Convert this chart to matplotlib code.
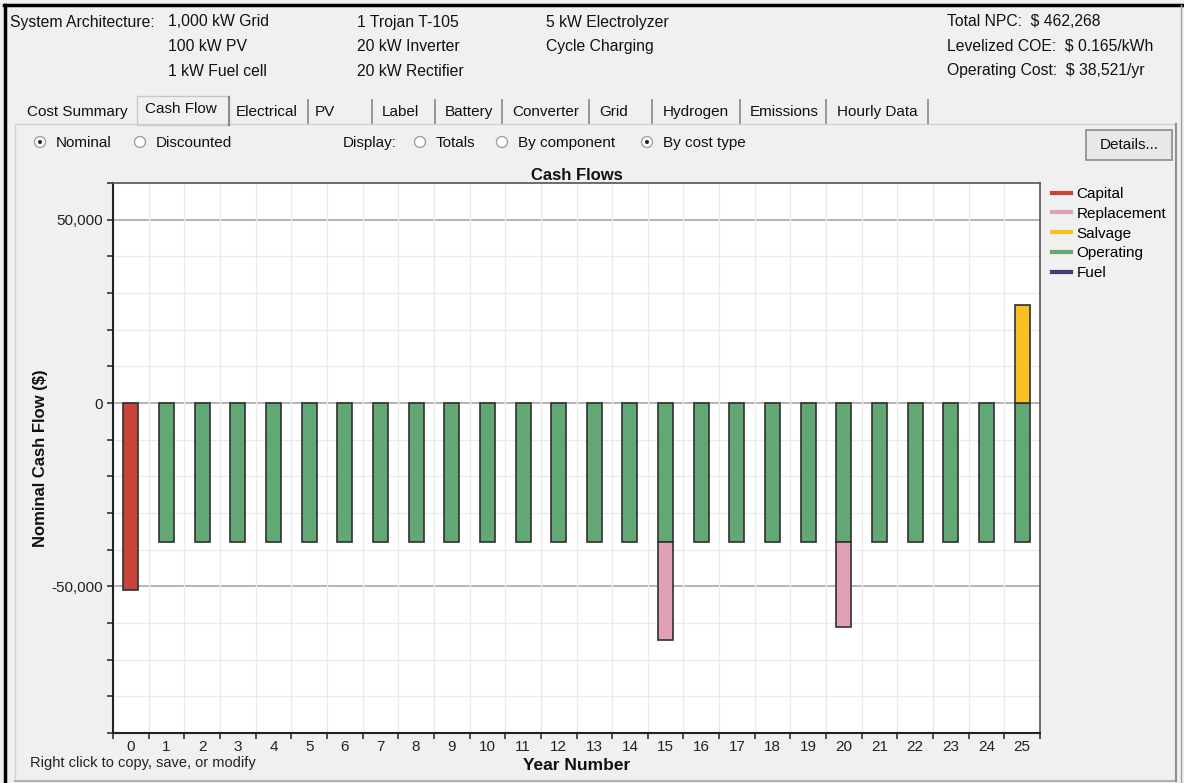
import matplotlib
matplotlib.use('Agg')
import matplotlib.pyplot as plt
from matplotlib.patches import Rectangle, Circle
from matplotlib.lines import Line2D

plt.rcParams['font.family'] = ['Liberation Sans', 'DejaVu Sans']

# dados (US$ nominal por ano)
anos = [0, 1, 2, 3, 4, 5, 6, 7, 8, 9, 10, 11, 12, 13, 14, 15, 16, 17, 18, 19, 20, 21, 22, 23, 24, 25]
capital = [-51100, 0, 0, 0, 0, 0, 0, 0, 0, 0, 0, 0, 0, 0, 0, 0, 0, 0, 0, 0, 0, 0, 0, 0, 0, 0]
operacao = [0, -37900, -37900, -37900, -37900, -37900, -37900, -37900, -37900, -37900, -37900,
            -37900, -37900, -37900, -37900, -37900, -37900, -37900, -37900, -37900, -37900,
            -37900, -37900, -37900, -37900, -37900]
reposicao = [0, 0, 0, 0, 0, 0, 0, 0, 0, 0, 0, 0, 0, 0, 0, -26700, 0, 0, 0, 0, -23300, 0, 0, 0, 0, 0]
salvamento = [0, 0, 0, 0, 0, 0, 0, 0, 0, 0, 0, 0, 0, 0, 0, 0, 0, 0, 0, 0, 0, 0, 0, 0, 0, 26700]
combustivel = [0] * 26

legenda = ['Capital', 'Replacement', 'Salvage', 'Operating', 'Fuel']
cores = {'Capital': '#c8443a', 'Replacement': '#e0a0b8', 'Salvage': '#f8c020',
         'Operating': '#62a874', 'Fuel': '#3c3f6e'}
anos_ticks = [str(a) for a in anos]

arquitetura = [['1,000 kW Grid', '100 kW PV', '1 kW Fuel cell'],
               ['1 Trojan T-105', '20 kW Inverter', '20 kW Rectifier'],
               ['5 kW Electrolyzer', 'Cycle Charging']]
resumo = ['Total NPC:  $ 462,268', 'Levelized COE:  $ 0.165/kWh', 'Operating Cost:  $ 38,521/yr']
abas = [('Cost Summary', 27), ('Electrical', 236), ('PV', 315), ('Label', 382), ('Battery', 445),
        ('Converter', 512), ('Grid', 599), ('Hydrogen', 663), ('Emissions', 750), ('Hourly Data', 837)]
separadores = [229, 308, 372, 435, 502, 589, 652, 740, 826, 928]

fundo = '#f0f0f0'
fig = plt.figure(figsize=(11.84, 7.83), dpi=100, facecolor=fundo)

# camada da janela (coordenadas em pixels)
ui = fig.add_axes([0, 0, 1, 1])
ui.set_xlim(0, 1184)
ui.set_ylim(783, 0)
ui.axis('off')

ui.plot([4, 1184], [5, 5], color='black', lw=2.5)
ui.plot([5, 5], [5, 783], color='black', lw=2.5)
ui.plot([1181, 1181], [5, 783], color='#a0a0a0', lw=1)

fs_ui = 11.3
ui.text(10, 22, 'System Architecture:', fontsize=fs_ui, va='center', color='#111')
col_x = [168, 357, 546]
for cx, linhas in zip(col_x, arquitetura):
    for i, t in enumerate(linhas):
        ui.text(cx, 22 + i * 24.5, t, fontsize=fs_ui, va='center', color='#111')
for i, t in enumerate(resumo):
    ui.text(947, 22 + i * 24.5, t, fontsize=fs_ui, va='center', color='#111')

# abas
ui.plot([15, 1176], [124, 124], color='#d0d0d0', lw=1)
ui.plot([15, 15], [124, 781], color='#d0d0d0', lw=1)
ui.plot([15, 1176], [781, 781], color='#b0b0b0', lw=1.5)
ui.plot([1176, 1176], [124, 781], color='#909090', lw=1.5)
ui.add_patch(Rectangle((137, 96), 92, 29, facecolor=fundo, edgecolor='#c8c8c8', lw=1))
ui.plot([229, 229], [97, 125], color='#808080', lw=1.5)
ui.text(145, 109, 'Cash Flow', fontsize=11, va='center', color='#111')
for nome, x in abas:
    ui.text(x, 112, nome, fontsize=11, va='center', color='#111')
for x in separadores:
    ui.plot([x, x], [100, 123], color='#909090', lw=1.3)

# botoes de radio
radios = [(40, 'Nominal', True), (140, 'Discounted', False), (420, 'Totals', False),
          (502, 'By component', False), (647, 'By cost type', True)]
for x, nome, marcado in radios:
    ui.add_patch(Circle((x, 142), 5.5, facecolor='white', edgecolor='#a0a0a0', lw=1))
    if marcado:
        ui.add_patch(Circle((x, 142), 2, facecolor='#222', edgecolor='none'))
    ui.text(x + 16, 143, nome, fontsize=11, va='center', color='#111')
ui.text(343, 143, 'Display:', fontsize=11, va='center', color='#111')

ui.add_patch(Rectangle((1086, 130), 86, 30, facecolor='#e8e8e8', edgecolor='#8a8a8a', lw=1.2))
ui.text(1129, 145, 'Details...', fontsize=11, va='center', ha='center', color='#111')

ui.text(30, 763, 'Right click to copy, save, or modify', fontsize=10.5, va='center', color='#222')

# grafico
ax = fig.add_axes([113 / 1184, 1 - 733 / 783, 927 / 1184, 550 / 783])
ax.set_facecolor('white')
largura = 0.42
borda = '#303030'

def barras(valores, cor, base=None):
    xs, hs, bs = [], [], []
    for i, v in enumerate(valores):
        if v != 0:
            xs.append(anos[i])
            hs.append(v)
            bs.append(base[i] if base else 0)
    ax.bar(xs, hs, largura, bottom=bs, color=cor, edgecolor=borda, lw=1.2, zorder=3)

barras(capital, cores['Capital'])
barras(operacao, cores['Operating'])
barras(reposicao, cores['Replacement'], operacao)
barras(salvamento, cores['Salvage'])
barras(combustivel, cores['Fuel'])

ax.set_xlim(-0.5, 25.5)
ax.set_ylim(-90000, 60000)
ax.set_xticks(anos)
ax.set_xticklabels(anos_ticks)
ax.set_xticks([a + 0.5 for a in anos[:-1]] + [-0.5, 25.5], minor=True)
ax.set_yticks([-50000, 0, 50000])
ax.set_yticklabels(['-50,000', '0', '50,000'])
ax.set_yticks(range(-90000, 60001, 10000), minor=True)
ax.tick_params(axis='x', which='major', length=0, pad=5, labelsize=11, labelcolor='#222')
ax.tick_params(axis='x', which='minor', length=4, width=1.2, color='#333')
ax.tick_params(axis='y', which='both', length=4, width=1.2, color='#333', labelsize=11, labelcolor='#222')
ax.grid(which='minor', color='#ebebeb', lw=1, zorder=0)
for y in [-50000, 0, 50000]:
    ax.axhline(y, color='#a8a8a8', lw=1.2, zorder=1)
for lado in ['left', 'bottom']:
    ax.spines[lado].set_color('#222')
    ax.spines[lado].set_linewidth(1.5)
for lado in ['top', 'right']:
    ax.spines[lado].set_color('#555')
    ax.spines[lado].set_linewidth(1.2)

ax.set_title('Cash Flows', fontsize=12, fontweight='bold', pad=2, color='#111')
ax.set_xlabel('Year Number', fontsize=12.5, fontweight='bold', labelpad=3, color='#111')
ax.set_ylabel('Nominal Cash Flow ($)', fontsize=12, fontweight='bold', color='#111')
ax.yaxis.set_label_coords(-0.07, 0.50)

alcas = [Line2D([], [], color=cores[n], lw=3) for n in legenda]
ax.legend(alcas, legenda, loc='upper left', bbox_to_anchor=(1.0, 1.015), frameon=False,
          fontsize=11, handlelength=1.2, handletextpad=0.4, labelspacing=0.38, borderaxespad=0.4)

fig.savefig('out.png', dpi=100, facecolor=fundo)
